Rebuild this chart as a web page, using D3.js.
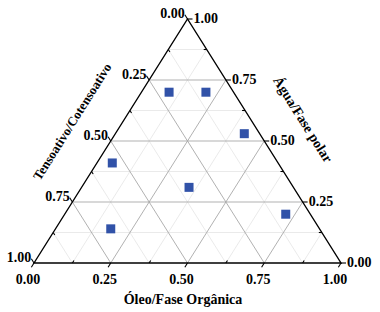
<!DOCTYPE html>
<html>
<head>
<meta charset="utf-8">
<script src="https://cdn.jsdelivr.net/npm/d3@7"></script>
<style>
  body { margin:0; background:#fff; }
  text { font-family: "Liberation Serif", "Times New Roman", serif; font-weight:bold; fill:#000; }
</style>
</head>
<body>
<div id="tern"></div>
<script>
// composition of each sample (fractions)
var oleo       = [0.09, 0.21, 0.42, 0.05, 0.35, 0.72, 0.18];
var agua       = [0.70, 0.70, 0.53, 0.41, 0.31, 0.20, 0.14];
var tensoativo = [0.21, 0.09, 0.05, 0.54, 0.34, 0.08, 0.68];

var majorTicks = [0, 0.25, 0.5, 0.75, 1];
var minorTicks = [0.125, 0.375, 0.625, 0.875];
var gridMajor = [0.25, 0.5, 0.75];
var gridMinor = [0.125, 0.375, 0.625, 0.875];

var width = 380, height = 312;

var svg = d3.select("#tern")
  .append("svg")
  .attr("width", width)
  .attr("height", height);

var xScale = d3.scaleLinear().domain([0,1]).range([34,341]);
var yScale = d3.scaleLinear().domain([0,1]).range([263,19]);

// o = oleo, a = agua  (tensoativo = 1 - o - a)
function pt(o, a){
  return [xScale(o + a/2), yScale(a)];
}

var line = d3.line();

// unit direction of the left edge (bottom-left -> top) and right edge (top -> bottom-right)
var L0 = pt(0,0), T0 = pt(0,1), R0 = pt(1,0);
function unit(p, q){
  var dx = q[0]-p[0], dy = q[1]-p[1], n = Math.sqrt(dx*dx+dy*dy);
  return [dx/n, dy/n];
}
var dirLeft = unit(L0, T0);
var dirRight = unit(T0, R0);

function gridLines(vals){
  var segs = [];
  vals.forEach(function(v){
    segs.push([pt(0,v), pt(1-v,v)]);       // constant agua
    segs.push([pt(v,0), pt(v,1-v)]);       // constant oleo
    segs.push([pt(0,1-v), pt(1-v,0)]);     // constant tensoativo
  });
  return segs;
}

svg.append("g").selectAll("path")
  .data(gridLines(gridMinor))
  .enter().append("path")
  .attr("d", line)
  .attr("stroke", "#e4e4e4")
  .attr("stroke-width", 0.8)
  .attr("fill", "none");

svg.append("g").selectAll("path")
  .data(gridLines(gridMajor))
  .enter().append("path")
  .attr("d", line)
  .attr("stroke", "#a8a8a8")
  .attr("stroke-width", 0.9)
  .attr("fill", "none");

// triangle frame
svg.append("path")
  .attr("d", line([L0, T0, R0]) + "Z")
  .attr("fill", "none")
  .attr("stroke", "#000")
  .attr("stroke-width", 1.4);

var tickLen = 5, minorLen = 3;

// tick definitions: base point and outward direction for each axis
var axes = [
  { name:"oleo",  base:function(v){ return pt(v,0); },   out:[-dirLeft[0], -dirLeft[1]] },
  { name:"tens",  base:function(v){ return pt(0,1-v); }, out:[-dirRight[0], -dirRight[1]] },
  { name:"agua",  base:function(v){ return pt(1-v,v); }, out:[1,0] }
];

var ticks = svg.append("g");
axes.forEach(function(ax){
  majorTicks.forEach(function(v){
    var b = ax.base(v);
    ticks.append("path")
      .attr("d", line([b, [b[0]+ax.out[0]*tickLen, b[1]+ax.out[1]*tickLen]]))
      .attr("stroke", "#000").attr("stroke-width", 1.1);
  });
  minorTicks.forEach(function(v){
    var b = ax.base(v);
    ticks.append("path")
      .attr("d", line([b, [b[0]-ax.out[0]*minorLen, b[1]-ax.out[1]*minorLen]]))
      .attr("stroke", "#000").attr("stroke-width", 1.1);
  });
});

var fmt = d3.format(".2f");
var labels = svg.append("g").style("font-size", "14px");

// bottom: oleo
labels.selectAll(".lb").data(majorTicks).enter().append("text")
  .attr("class","lb")
  .attr("text-anchor","middle")
  .attr("x", function(d){ return pt(d,0)[0] - 6; })
  .attr("y", function(d){ return pt(d,0)[1] + 21; })
  .text(fmt);

// left: tensoativo
labels.selectAll(".ll").data(majorTicks).enter().append("text")
  .attr("class","ll")
  .attr("text-anchor","end")
  .attr("x", function(d){ return pt(0,1-d)[0] - dirRight[0]*tickLen; })
  .attr("y", function(d){ return pt(0,1-d)[1] - dirRight[1]*tickLen + 3.5; })
  .text(fmt);

// right: agua
labels.selectAll(".lr").data(majorTicks).enter().append("text")
  .attr("class","lr")
  .attr("text-anchor","start")
  .attr("x", function(d){ return pt(1-d,d)[0] + tickLen + 1; })
  .attr("y", function(d){ return pt(1-d,d)[1] + 4; })
  .text(fmt);

// axis titles
var angle = Math.atan2(-dirLeft[1], dirLeft[0]) * 180 / Math.PI;

svg.append("text")
  .attr("text-anchor","middle")
  .style("font-size","14px")
  .attr("x", 183).attr("y", 304)
  .text("Óleo/Fase Orgânica");

svg.append("text")
  .attr("text-anchor","middle")
  .style("font-size","13px")
  .attr("transform","translate(76,124) rotate(" + (-angle) + ")")
  .text("Tensoativo/Cotensoativo");

svg.append("text")
  .attr("text-anchor","middle")
  .style("font-size","14px")
  .attr("transform","translate(299,122) rotate(" + angle + ")")
  .text("Água/Fase polar");

// samples
var sq = 9;
svg.append("g").selectAll("rect")
  .data(d3.range(oleo.length))
  .enter().append("rect")
  .attr("x", function(i){ return pt(oleo[i], agua[i])[0] - sq/2; })
  .attr("y", function(i){ return pt(oleo[i], agua[i])[1] - sq/2; })
  .attr("width", sq)
  .attr("height", sq)
  .attr("fill", "#3152a8");
</script>
</body>
</html>
